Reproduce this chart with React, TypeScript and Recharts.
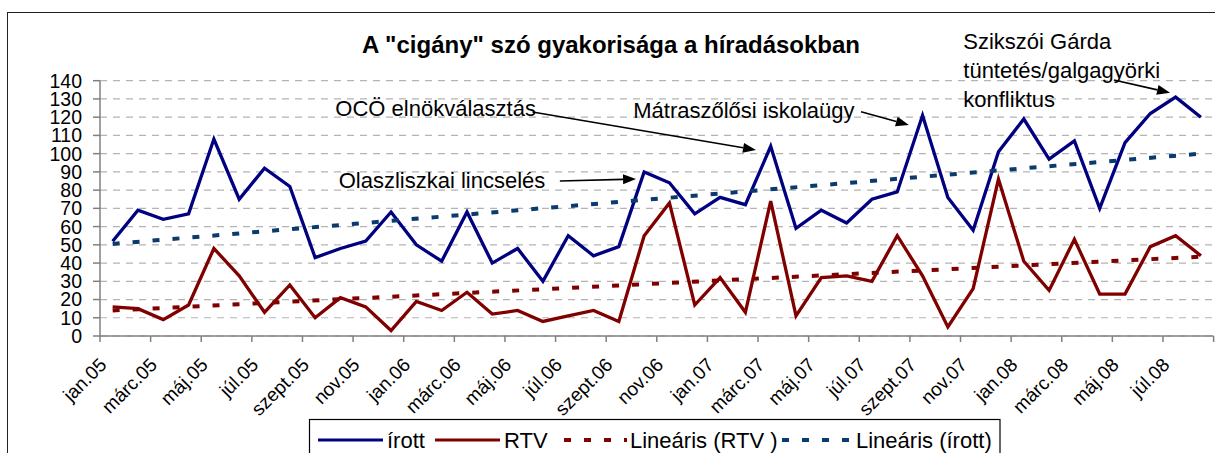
import React from 'react';
import { LineChart, Line, XAxis, YAxis, CartesianGrid, ReferenceLine, ReferenceDot } from 'recharts';

const months = [
  'jan.05', 'febr.05', 'márc.05', 'ápr.05', 'máj.05', 'jún.05', 'júl.05', 'aug.05', 'szept.05', 'okt.05', 'nov.05', 'dec.05',
  'jan.06', 'febr.06', 'márc.06', 'ápr.06', 'máj.06', 'jún.06', 'júl.06', 'aug.06', 'szept.06', 'okt.06', 'nov.06', 'dec.06',
  'jan.07', 'febr.07', 'márc.07', 'ápr.07', 'máj.07', 'jún.07', 'júl.07', 'aug.07', 'szept.07', 'okt.07', 'nov.07', 'dec.07',
  'jan.08', 'febr.08', 'márc.08', 'ápr.08', 'máj.08', 'jún.08', 'júl.08', 'aug.08',
];

const irott = [52, 69, 64, 67, 108, 75, 92, 82, 43, 48, 52, 68, 50, 41, 68, 40, 48, 30, 55, 44, 49, 90, 84, 67, 76, 72, 104, 59, 69, 62, 75, 79, 121, 76, 58, 101, 119, 97, 107, 70, 106, 122, 131, 120];
const rtv = [16, 15, 9, 17, 48, 33, 13, 28, 10, 21, 16, 3, 19, 14, 24, 12, 14, 8, 11, 14, 8, 55, 73, 17, 32, 13, 74, 11, 32, 33, 30, 55, 33, 5, 26, 86, 41, 25, 53, 23, 23, 49, 55, 44];

// trend line end values (first and last month)
const irottTrendEnds = [50.5, 100];
const rtvTrendEnds = [14, 43.5];

const yTicks = [0, 10, 20, 30, 40, 50, 60, 70, 80, 90, 100, 110, 120, 130, 140];

// annotations: text, anchor (category index, value)
const annoTexts = ['OCÖ elnökválasztás', 'Olaszliszkai lincselés', 'Mátraszőlősi iskolaügy', 'Szikszói Gárda', 'tüntetés/galgagyörki', 'konfliktus'];
const annoX = [8.8, 8.93, 20.57, 33.61, 33.61, 33.61];
const annoY = [124.5, 85.0, 123.9, 161.3, 145.4, 129.9];

// arrows: [fromX, fromY, toX, toY] in category / value units
const arrowFromX = [16.59, 17.67, 29.57, 39.56];
const arrowFromY = [122.8, 85.0, 123.0, 140.4];
const arrowToX = [25.42, 20.68, 31.46, 41.78];
const arrowToY = [102.0, 86.1, 115.7, 133.4];

const FONT = '"Liberation Sans", Arial, sans-serif';
const BLUE = '#000080';
const RED = '#800000';
const BLUE_T = '#0a3a6e';
const RED_T = '#800000';

const last = months.length - 1;
const data = months.map((m, i) => ({
  i,
  name: m,
  irott: irott[i],
  rtv: rtv[i],
  irottTrend: i === 0 ? irottTrendEnds[0] : i === last ? irottTrendEnds[1] : null,
  rtvTrend: i === 0 ? rtvTrendEnds[0] : i === last ? rtvTrendEnds[1] : null,
}));

const xTicks: number[] = [];
for (let k = 0; k <= months.length; k += 2) xTicks.push(k - 0.5);

const W = 1215;
const H = 453;
const M = { top: 80.7, right: 1.4, bottom: 0, left: 40 };
const Y_W = 60;
const X_H = 117;
const plotW = W - M.left - M.right - Y_W;
const catW = plotW / months.length;

const XTick = (props: any) => {
  const { x, y, payload } = props;
  const idx = Math.round(payload.value + 0.5);
  const label = months[idx];
  if (!label) return null;
  const px = x + catW / 2 - 5;
  const py = y + 22;
  return (
    <text x={px} y={py} transform={`rotate(-45 ${px} ${py})`} textAnchor="end" fontSize={19} fontFamily={FONT} fill="#000">
      {label}
    </text>
  );
};

const Arrow = (p: any) => {
  const { x1, y1, x2, y2 } = p;
  const a = Math.atan2(y2 - y1, x2 - x1);
  const L = 13;
  const Wd = 5;
  const c = Math.cos(a);
  const s = Math.sin(a);
  const bx = x2 - L * c;
  const by = y2 - L * s;
  const pts = `${x2},${y2} ${bx - Wd * s},${by + Wd * c} ${bx + Wd * s},${by - Wd * c}`;
  return (
    <g>
      <line x1={x1} y1={y1} x2={bx} y2={by} stroke="#000" strokeWidth={1.6} />
      <polygon points={pts} fill="#000" />
    </g>
  );
};

const makeText = (t: string) => (p: any) => (
  <text x={p.cx} y={p.cy} dominantBaseline="central" fontSize={22} fontFamily={FONT} fill="#000">
    {t}
  </text>
);

const legendItems = [
  { label: 'írott', color: BLUE, dash: undefined as string | undefined, x1: 318, x2: 383, tx: 387 },
  { label: 'RTV', color: RED, dash: undefined, x1: 435, x2: 500, tx: 504 },
  { label: 'Lineáris (RTV )', color: RED_T, dash: '7 13', x1: 564, x2: 627, tx: 630 },
  { label: 'Lineáris (írott)', color: BLUE_T, dash: '7 13', x1: 782, x2: 852, tx: 856 },
];

export default function App() {
  return (
    <div style={{ position: 'fixed', left: 0, top: 0, width: W, height: H, overflow: 'hidden', background: '#fff', fontFamily: FONT }}>
      <div style={{ position: 'absolute', left: 6.5, top: 12, width: 1400, height: 600, borderTop: '1.5px solid #222', borderLeft: '1.5px solid #222' }} />
      <div style={{ position: 'absolute', left: 611, top: 30, transform: 'translateX(-50%)', whiteSpace: 'nowrap', fontSize: 24, fontWeight: 'bold', color: '#000', lineHeight: '30px' }}>
        A "cigány" szó gyakorisága a híradásokban
      </div>
      <div style={{ position: 'absolute', left: 0, top: 0 }}>
        <LineChart width={W} height={H} data={data} margin={M}>
          <CartesianGrid horizontal={true} vertical={false} stroke="#b4b4b4" strokeDasharray="7 6" strokeWidth={1.2} />
          <XAxis
            type="number"
            dataKey="i"
            domain={[-0.5, months.length - 0.5]}
            ticks={xTicks}
            interval={0}
            height={X_H}
            axisLine={{ stroke: '#808080', strokeWidth: 1.5 }}
            tickLine={{ stroke: '#808080', strokeWidth: 1.5 }}
            tickSize={6}
            tickMargin={2}
            tick={<XTick />}
            allowDataOverflow
          />
          <YAxis
            type="number"
            domain={[0, 140]}
            ticks={yTicks}
            interval={0}
            width={Y_W}
            axisLine={{ stroke: '#808080', strokeWidth: 1.5 }}
            tickLine={{ stroke: '#808080', strokeWidth: 1.5 }}
            tickSize={7}
            tickMargin={11}
            tick={{ fontSize: 19.5, fill: '#000', fontFamily: FONT }}
          />
          <Line type="linear" dataKey="irott" stroke={BLUE} strokeWidth={3.3} dot={false} isAnimationActive={false} />
          <Line type="linear" dataKey="rtv" stroke={RED} strokeWidth={3.3} dot={false} isAnimationActive={false} />
          <Line type="linear" dataKey="rtvTrend" stroke={RED_T} strokeWidth={4} strokeDasharray="7 13" dot={false} connectNulls isAnimationActive={false} />
          <Line type="linear" dataKey="irottTrend" stroke={BLUE_T} strokeWidth={4} strokeDasharray="7 13" dot={false} connectNulls isAnimationActive={false} />
          {arrowFromX.map((fx, k) => (
            <ReferenceLine
              key={'a' + k}
              segment={[{ x: fx, y: arrowFromY[k] }, { x: arrowToX[k], y: arrowToY[k] }]}
              ifOverflow="visible"
              shape={Arrow}
            />
          ))}
          {annoTexts.map((t, k) => (
            <ReferenceDot key={'t' + k} x={annoX[k]} y={annoY[k]} r={0} ifOverflow="visible" shape={makeText(t)} />
          ))}
        </LineChart>
      </div>
      <svg style={{ position: 'absolute', left: 0, top: 0 }} width={W} height={H}>
        <rect x={309.5} y={419.5} width={690.5} height={44} fill="#fff" stroke="#000" strokeWidth={1.2} />
        {legendItems.map((it) => (
          <g key={it.label}>
            <line x1={it.x1} y1={440} x2={it.x2} y2={440} stroke={it.color} strokeWidth={it.dash ? 4 : 3} strokeDasharray={it.dash} />
            <text x={it.tx} y={440} dominantBaseline="central" fontSize={22} fontFamily={FONT} fill="#000">{it.label}</text>
          </g>
        ))}
      </svg>
    </div>
  );
}
